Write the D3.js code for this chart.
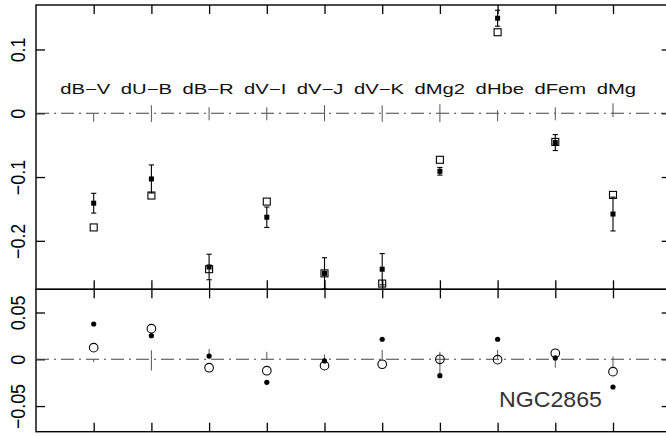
<!DOCTYPE html>
<html><head><meta charset="utf-8">
<script src="https://cdn.jsdelivr.net/npm/d3@7"></script>
<style>
html,body{margin:0;padding:0;background:#fff;}
svg{display:block;font-family:"Liberation Sans",Arial,sans-serif;}
</style></head>
<body><svg id="c" width="666" height="437"></svg>
<script>
// ---- data ----
const categories = ["dB−V","dU−B","dB−R","dV−I","dV−J","dV−K","dMg2","dHbe","dFem","dMg"];
// top panel: filled squares with error bars, open squares
const topFilled = [-0.141,-0.103,-0.241,-0.163,-0.251,-0.2445,-0.091,0.149,-0.046,-0.158];
const topErr    = [0.0155,0.022,0.020,0.016,0.0245,0.0245,0.006,0.0125,0.0125,0.0265];
const topOpen   = [-0.179,-0.129,-0.2445,-0.1385,-0.251,-0.267,-0.073,0.127,-0.045,-0.128];
// faint bars sitting on the zero line (lower, upper extents)
const topZeroLo = [-0.0133,-0.0136,-0.011,-0.011,-0.0125,-0.0136,-0.014,-0.0125,-0.011,-0.006];
const topZeroHi = [0,0.0125,0.0094,0.0094,0.0125,0.0125,0.014,0.005,0.0094,0.0156];
// bottom panel: filled dots, open circles
const botFilled = [0.0377,0.0252,0.0035,-0.0246,-0.0018,0.0214,-0.0175,0.0214,0.0014,-0.0296];
const botOpen   = [0.0124,0.0327,-0.009,-0.0122,-0.0068,-0.0053,0.0,-0.0004,0.0064,-0.0132];
const botZeroLo = [-0.003,-0.012,0,0,0,0,-0.0186,0,-0.009,-0.0086];
const botZeroHi = [0,0.0096,0.011,0.008,0.005,0.01,0.008,0.01,0,0.003];
const topTicks = [-0.2,-0.1,0,0.1];
const topTickLabels = ["−0.2","−0.1","0","0.1"];
const botTicks = [-0.05,0,0.05];
const botTickLabels = ["−0.05","0","0.05"];
const panelLabel = "NGC2865";

// ---- layout ----
const svg = d3.select("#c");
const X0 = 36, X1 = 670.7;
const x = d3.scaleLinear().domain([0, 11]).range([X0, X1]);
const yT = d3.scaleLinear().domain([-0.276, 0.1697]).range([289.3, 5]);
const yB = d3.scaleLinear().domain([-0.0774, 0.0748]).range([431.7, 289.3]);
const idx = d3.range(categories.length);
const xc = i => x(i + 1);
const TICK = 9;

function panel(y, ticks, labels) {
  const g = svg.append("g");
  const [yb, yt] = y.range();
  g.append("g").attr("transform", `translate(0,${yt})`)
    .call(d3.axisTop(x).tickValues(idx.map(i => i + 1)).tickSize(-TICK).tickSizeOuter(0).tickFormat(""));
  g.append("g").attr("transform", `translate(0,${yb})`)
    .call(d3.axisBottom(x).tickValues(idx.map(i => i + 1)).tickSize(-TICK).tickSizeOuter(0).tickFormat(""));
  const ax = g.append("g").attr("transform", `translate(${X0},0)`)
    .call(d3.axisLeft(y).tickValues(ticks).tickSize(-TICK).tickSizeOuter(0)
      .tickFormat((d, i) => labels[i]));
  ax.selectAll("text")
    .attr("x", 0).attr("y", -11).attr("dy", null)
    .attr("text-anchor", "middle")
    .attr("transform", "rotate(-90) scale(0.85,1)")
    .style("font-size", "21px").style("fill", "#000")
    .style("font-family", "'Liberation Sans',Arial,sans-serif");
  g.append("g").attr("transform", `translate(${X1},0)`)
    .call(d3.axisRight(y).tickValues(ticks).tickSize(-TICK).tickSizeOuter(0).tickFormat(""));
  g.selectAll(".domain").remove();
  g.selectAll(".tick line").attr("stroke", "#000").attr("stroke-width", 1.3);
  g.append("rect").attr("x", X0).attr("y", yt).attr("width", X1 - X0).attr("height", yb - yt)
    .attr("fill", "none").attr("stroke", "#000").attr("stroke-width", 1.4);
  g.append("line").attr("x1", X0).attr("x2", X1).attr("y1", y(0)).attr("y2", y(0))
    .attr("stroke", "#444").attr("stroke-width", 1.1).attr("stroke-dasharray", "13,5,2,5");
  return g;
}

const gT = panel(yT, topTicks, topTickLabels);
const gB = panel(yB, botTicks, botTickLabels);

gT.selectAll(".zb").data(idx).join("line")
  .attr("x1", xc).attr("x2", xc)
  .attr("y1", i => yT(topZeroLo[i])).attr("y2", i => yT(topZeroHi[i]))
  .attr("stroke", "#555").attr("stroke-width", 1);
gB.selectAll(".zb").data(idx).join("line")
  .attr("x1", xc).attr("x2", xc)
  .attr("y1", i => yB(botZeroLo[i])).attr("y2", i => yB(botZeroHi[i]))
  .attr("stroke", "#555").attr("stroke-width", 1);

// category labels as one line of text, glyphs stretched horizontally
svg.append("text")
  .attr("x", x(0.42)).attr("y", 94.3)
  .attr("textLength", x(10.4) - x(0.42)).attr("lengthAdjust", "spacingAndGlyphs")
  .style("font-size", "14.5px").style("word-spacing", "3.5px").attr("fill", "#111")
  .text(categories.join(" "));

// top panel error bars
const cap = 2.6;
const eb = gT.append("g").attr("stroke", "#000").attr("stroke-width", 1.1);
eb.selectAll(".v").data(idx).join("line")
  .attr("x1", xc).attr("x2", xc)
  .attr("y1", i => yT(topFilled[i] - topErr[i])).attr("y2", i => yT(topFilled[i] + topErr[i]));
eb.selectAll(".c1").data(idx).join("line")
  .attr("x1", i => xc(i) - cap).attr("x2", i => xc(i) + cap)
  .attr("y1", i => yT(topFilled[i] + topErr[i])).attr("y2", i => yT(topFilled[i] + topErr[i]));
eb.selectAll(".c2").data(idx).join("line")
  .attr("x1", i => xc(i) - cap).attr("x2", i => xc(i) + cap)
  .attr("y1", i => yT(topFilled[i] - topErr[i])).attr("y2", i => yT(topFilled[i] - topErr[i]));

const os = 7;
gT.selectAll(".os").data(idx).join("rect")
  .attr("x", i => xc(i) - os / 2).attr("y", i => yT(topOpen[i]) - os / 2)
  .attr("width", os).attr("height", os)
  .attr("fill", "none").attr("stroke", "#000").attr("stroke-width", 1.1);
const fs = 5;
gT.selectAll(".fs").data(idx).join("rect")
  .attr("x", i => xc(i) - fs / 2).attr("y", i => yT(topFilled[i]) - fs / 2)
  .attr("width", fs).attr("height", fs).attr("fill", "#000");

gB.selectAll(".oc").data(idx).join("circle")
  .attr("cx", xc).attr("cy", i => yB(botOpen[i])).attr("r", 4.3)
  .attr("fill", "none").attr("stroke", "#000").attr("stroke-width", 1.1);
gB.selectAll(".fc").data(idx).join("circle")
  .attr("cx", xc).attr("cy", i => yB(botFilled[i])).attr("r", 2.6)
  .attr("fill", "#000");

svg.append("text")
  .attr("x", 499).attr("y", 406.7)
  .attr("textLength", 103).attr("lengthAdjust", "spacingAndGlyphs")
  .style("font-size", "22px").attr("fill", "#333")
  .text(panelLabel);
</script>
</body></html>
